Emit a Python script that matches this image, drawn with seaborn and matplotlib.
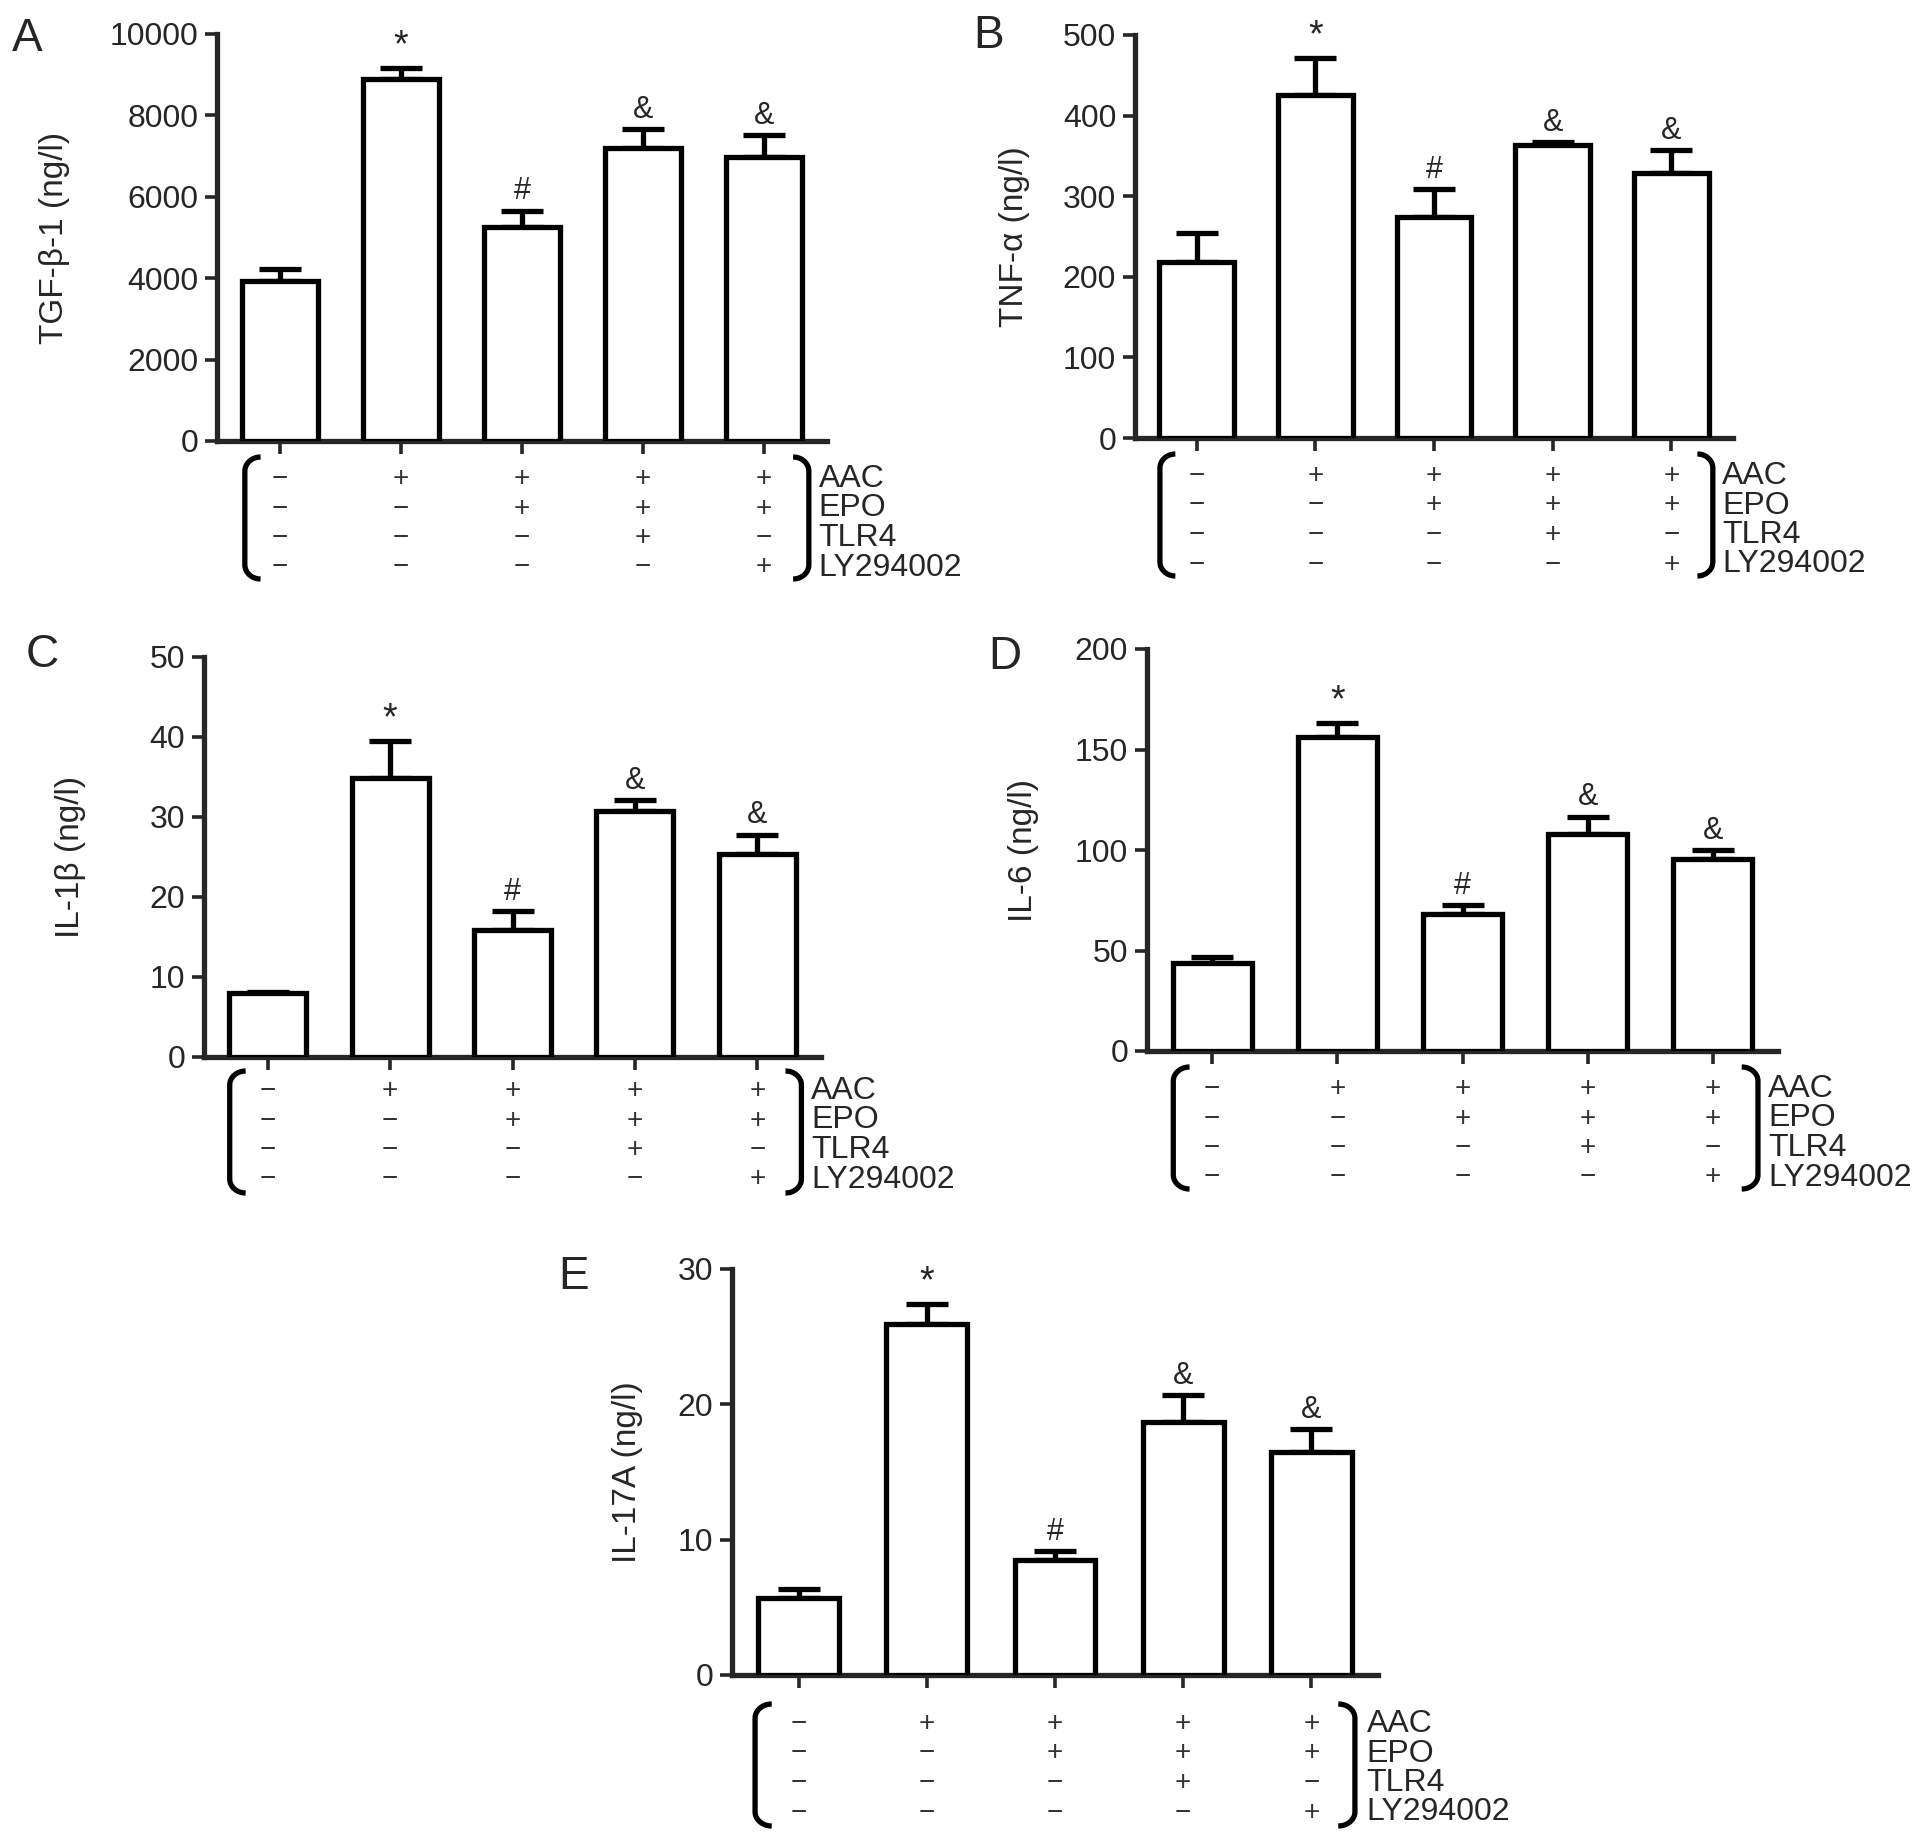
import numpy as np
import pandas as pd
import matplotlib
import matplotlib.pyplot as plt
import seaborn as sns

matplotlib.use("Agg")

# values (mean, upper error)
groups = ["G1", "G2", "G3", "G4", "G5"]
tgf_mean = [3920, 8900, 5260, 7190, 6990]
tgf_err = [300, 255, 400, 470, 520]
tnf_mean = [218, 426, 274, 363, 329]
tnf_err = [36, 45, 35, 4, 28]
il1b_mean = [8.0, 34.9, 15.9, 30.7, 25.4]
il1b_err = [0.15, 4.6, 2.3, 1.4, 2.4]
il6_mean = [43.7, 156.3, 68.0, 108.2, 95.4]
il6_err = [3.2, 6.9, 4.5, 8.4, 4.7]
il17_mean = [5.7, 25.9, 8.5, 18.7, 16.5]
il17_err = [0.64, 1.5, 0.65, 2.0, 1.7]
marks = ["", "*", "#", "&", "&"]

row_names = ["AAC", "EPO", "TLR4", "LY294002"]
aac = ["−", "+", "+", "+", "+"]
epo = ["−", "−", "+", "+", "+"]
tlr4 = ["−", "−", "−", "+", "−"]
ly = ["−", "−", "−", "−", "+"]

sns.set_style("ticks")
plt.rcParams["font.family"] = ["Liberation Sans", "DejaVu Sans"]

W, H = 1913, 1839
fig = plt.figure(figsize=(W / 100, H / 100), dpi=100)

LW = 3.8


def px_axes(left, top, right, bottom):
    return fig.add_axes([left / W, 1 - bottom / H, (right - left) / W, (bottom - top) / H])


def bracket(ax, x0, top, bot, side, hw=0.13, rh=0.035):
    # side = 1 -> "[" shape, -1 -> "]" shape, rounded corners
    t = np.linspace(0, np.pi / 2, 20)
    tr = ax.get_xaxis_transform()
    xs_top = x0 + side * hw * (1 - np.sin(t))
    ys_top = top - rh + rh * np.cos(t)
    xs_bot = x0 + side * hw * (1 - np.cos(t))
    ys_bot = bot + rh - rh * np.sin(t)
    xs = np.concatenate([xs_top, xs_bot])
    ys = np.concatenate([ys_top, ys_bot])
    ax.plot(xs, ys, color="black", lw=LW, transform=tr, clip_on=False,
            solid_capstyle="butt")


def panel(box, means, errs, ymax, step, ylabel, lab_x, letter, letter_xy,
          row_off, br_off, lb_x, rb_x, name_x):
    ax = px_axes(*box)
    df = pd.DataFrame({"group": groups, "value": means})
    sns.barplot(data=df, x="group", y="value", ax=ax, color="white",
                edgecolor="black", linewidth=LW, width=0.63, saturation=1,
                errorbar=None, zorder=3)
    x = np.arange(len(groups))
    ax.errorbar(x, means, yerr=[np.zeros(len(errs)), errs], fmt="none",
                ecolor="black", elinewidth=LW, capsize=15, capthick=LW, zorder=2)
    for i, m in enumerate(marks):
        if m:
            ax.annotate(m, (i, means[i] + errs[i]), xytext=(0, 3),
                        textcoords="offset points", ha="center", va="bottom",
                        fontsize=27 if m == "*" else 22)
    ax.set_xlim(-0.52, 4.52)
    ax.set_ylim(0, ymax)
    ax.set_yticks(np.arange(0, ymax + step / 2, step))
    ax.set_xticks(x)
    ax.set_xticklabels([])
    ax.set_xlabel("")
    ax.set_ylabel(ylabel, fontsize=24)
    ax.yaxis.set_label_coords(lab_x, 0.5)
    ax.tick_params(axis="y", direction="out", length=8.5, width=2.6,
                   labelsize=23, pad=5)
    ax.tick_params(axis="x", direction="out", length=9, width=2.6)
    sns.despine(ax=ax)
    for s in ["left", "bottom"]:
        ax.spines[s].set_linewidth(LW)
    ax.patch.set_alpha(0)

    hpx = ax.bbox.height
    tr = ax.get_xaxis_transform()
    rows = [aac, epo, tlr4, ly]
    for r, (name, signs) in enumerate(zip(row_names, rows)):
        yy = -(row_off + r * 29.5) / hpx
        for i, s in enumerate(signs):
            ax.text(i, yy, s, transform=tr, ha="center", va="center",
                    fontsize=20, color="#333333")
        ax.text(name_x, yy, name, transform=tr, ha="left", va="center",
                fontsize=23)
    bt = -br_off / hpx
    bb = -(br_off + 122) / hpx
    bracket(ax, lb_x, bt, bb, 1)
    bracket(ax, rb_x, bt, bb, -1)
    fig.text(letter_xy[0] / W, 1 - letter_xy[1] / H, letter, fontsize=33,
             ha="left", va="top")
    return ax


panel((217, 34, 827, 441), tgf_mean, tgf_err, 10000, 2000, "TGF-β-1 (ng/l)",
      -0.241, "A", (12, 17), 38, 16, -0.29, 4.37, 4.45)
panel((1135, 35, 1733, 438), tnf_mean, tnf_err, 500, 100, "TNF-α (ng/l)",
      -0.176, "B", (973, 14), 38, 16, -0.31, 4.35, 4.43)
panel((204, 657, 821, 1057), il1b_mean, il1b_err, 50, 10, "IL-1β (ng/l)",
      -0.191, "C", (26, 633), 34, 14, -0.31, 4.36, 4.44)
panel((1147, 649, 1778, 1051), il6_mean, il6_err, 200, 50, "IL-6 (ng/l)",
      -0.171, "D", (988, 635), 38, 16, -0.31, 4.36, 4.44)
panel((732, 1269, 1378, 1675), il17_mean, il17_err, 30, 10, "IL-17A (ng/l)",
      -0.138, "E", (558, 1255), 49, 29, -0.34, 4.34, 4.43)

fig.savefig("out.png", dpi=100)
